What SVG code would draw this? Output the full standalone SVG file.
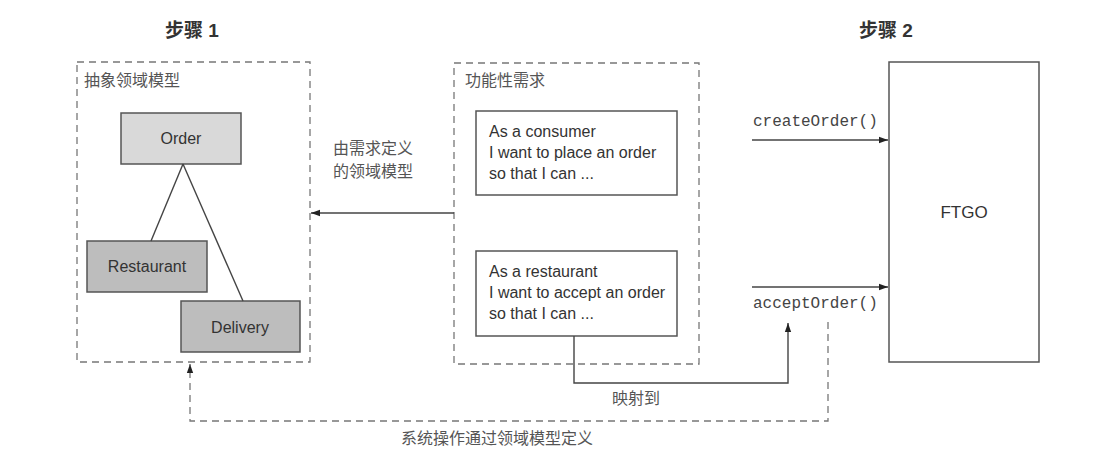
<svg xmlns="http://www.w3.org/2000/svg" width="1107" height="472" viewBox="0 0 1107 472">
<style>
.t{font-family:"Liberation Sans","Noto Sans CJK SC",sans-serif;fill:#333}
.cjk{font-family:"Noto Sans CJK SC","Liberation Sans",sans-serif;fill:#555;font-size:16px}
.mono{font-family:"Liberation Mono",monospace;fill:#444;font-size:16px}
.dash{fill:none;stroke:#777;stroke-width:1.3;stroke-dasharray:7 5}
.box{stroke:#555;stroke-width:1.5}
.ln{fill:none;stroke:#444;stroke-width:1.4}
</style>
<defs>
<marker id="ah" viewBox="0 0 10 10" refX="10" refY="5" markerWidth="9" markerHeight="9" orient="auto" markerUnits="userSpaceOnUse">
<path d="M0,1.5 L10,5 L0,8.5 Z" fill="#222"/>
</marker>
</defs>
<rect width="1107" height="472" fill="#fff"/>
<text class="t" x="192" y="37" font-size="19" font-weight="bold" text-anchor="middle" fill="#444">步骤 1</text>
<text class="t" x="886" y="37" font-size="19" font-weight="bold" text-anchor="middle" fill="#444">步骤 2</text>
<g id="domain-model">
<rect class="dash" x="77" y="62" width="233" height="300"/>
<text class="cjk" x="84" y="86">抽象领域模型</text>
</g>
<g id="order">
<rect class="box" x="121" y="113" width="120" height="51" fill="#d9d9d9"/>
<text class="t" x="181" y="144" font-size="16" text-anchor="middle">Order</text>
</g>
<g id="restaurant">
<rect class="box" x="87" y="241" width="120" height="51" fill="#bdbdbd"/>
<text class="t" x="147" y="272" font-size="16" text-anchor="middle">Restaurant</text>
</g>
<g id="delivery">
<rect class="box" x="181" y="301" width="119" height="51" fill="#bdbdbd"/>
<text class="t" x="240" y="333" font-size="16" text-anchor="middle">Delivery</text>
</g>
<g id="requirements">
<rect class="dash" x="454" y="63" width="245" height="301"/>
<text class="cjk" x="465" y="86">功能性需求</text>
</g>
<g id="story-consumer">
<rect class="box" x="476" y="111" width="201" height="84" fill="#fff"/>
<text class="t" x="489" y="137" font-size="16">As a consumer</text>
<text class="t" x="489" y="158" font-size="16">I want to place an order</text>
<text class="t" x="489" y="179" font-size="16">so that I can ...</text>
</g>
<g id="story-restaurant">
<rect class="box" x="476" y="251" width="201" height="85" fill="#fff"/>
<text class="t" x="489" y="277" font-size="16">As a restaurant</text>
<text class="t" x="489" y="298" font-size="16">I want to accept an order</text>
<text class="t" x="489" y="319" font-size="16">so that I can ...</text>
</g>
<g id="ftgo">
<rect class="box" x="889" y="62" width="150" height="300" fill="#fff"/>
<text class="t" x="964" y="218" font-size="17" text-anchor="middle">FTGO</text>
</g>
<g id="connectors">
<line class="ln" x1="183" y1="164" x2="151" y2="241"/>
<line class="ln" x1="183" y1="164" x2="243" y2="301"/>
<line class="ln" x1="454" y1="213" x2="311" y2="213" marker-end="url(#ah)"/>
<line class="ln" x1="752" y1="140" x2="888" y2="140" marker-end="url(#ah)"/>
<line class="ln" x1="752" y1="287" x2="888" y2="287" marker-end="url(#ah)"/>
<polyline class="ln" points="574,336 574,383 788,383 788,323" marker-end="url(#ah)"/>
<polyline class="dash" points="828,322 828,421 190,421 190,364" marker-end="url(#ah)"/>
</g>
<g id="labels">
<text class="cjk" x="333" y="154" font-size="15">由需求定义</text>
<text class="cjk" x="333" y="177" font-size="15">的领域模型</text>
<text class="mono" x="753" y="126">createOrder()</text>
<text class="mono" x="753" y="308">acceptOrder()</text>
<text class="cjk" x="636" y="404" text-anchor="middle">映射到</text>
<text class="cjk" x="497" y="444" text-anchor="middle">系统操作通过领域模型定义</text>
</g>
</svg>
